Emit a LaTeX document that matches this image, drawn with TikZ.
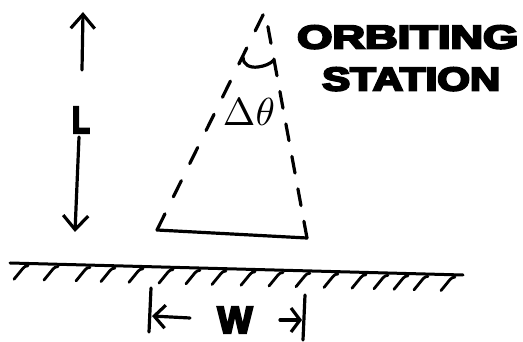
\documentclass[tikz,border=0pt]{standalone}
\usepackage{fontspec}
\setsansfont{Liberation Sans}
\newfontfamily\heavyfont{Liberation Sans}[FakeBold=6]
\usetikzlibrary{arrows.meta}
\tikzset{
  ink/.style={line width=3.2pt, line cap=round, line join=round},
  conedash/.style={ink, dash pattern=#1},
  hatchmark/.style={line width=2.8pt, line cap=round, line join=round},
  lbl/.style={inner sep=0pt, font=\heavyfont\bfseries}
}
\begin{document}
\begin{tikzpicture}[x=1pt,y=-1pt]
\useasboundingbox (0,0) rectangle (523,342);
% L dimension
\coordinate (upTail) at (82,70);
\coordinate (upTip) at (83,12);
\coordinate (dnTail) at (79,137);
\coordinate (dnTip) at (75,232);
\draw[ink, -{Straight Barb[length=14pt,width=24pt]}] (upTail) -- (upTip);
\draw[ink, -{Straight Barb[length=14pt,width=25pt]}] (dnTail) -- (dnTip);
\node[lbl] (Llbl) at (81,120) {\resizebox{18pt}{26pt}{L}};
% cone
\coordinate (apex) at (265,11);
\coordinate (bl) at (157,230);
\coordinate (br) at (307,238);
\draw[conedash={on 18pt off 19pt}] (bl) -- (apex);
\draw[conedash={on 17pt off 16pt}] (br) -- (apex);
\draw[ink] (bl) -- (br);
\draw[ink] (243,57) .. controls (243,65) and (250,68) .. (258,67) .. controls (265,66) and (270,64) .. (274,60);
\node[inner sep=0pt] (dtheta) at (249,112) {\resizebox{52pt}{!}{$\Delta\theta$}};
% title
\node[lbl, anchor=south west] (orb) at (297,49) {\resizebox{221pt}{23pt}{ORBITING}};
\node[lbl, anchor=south west] (sta) at (322,91) {\resizebox{178pt}{23pt}{STATION}};
% ground
\coordinate (g1) at (10,263);
\coordinate (g2) at (463,275);
\draw[line width=3pt, line cap=round] (g1) -- (g2);
\foreach \hx in {20,50,82,107,135,165,192,218,247,275,302,330,358,380,400,420,447} {
  \pgfmathsetmacro{\hy}{263+(\hx-10)*12/453}
  \draw[hatchmark] (\hx-6,\hy+16) -- (\hx+3,\hy+5) to[out=50,in=180] (\hx+8,\hy+2.5);
}
% W dimension
\coordinate (wlTop) at (151,288);
\coordinate (wlBot) at (149,332);
\coordinate (wrTop) at (305,295);
\coordinate (wrBot) at (303,340);
\coordinate (wlTail) at (190,318);
\coordinate (wlTip) at (152,316);
\coordinate (wrTail) at (280,320);
\coordinate (wrTip) at (302,320);
\draw[ink] (wlTop) -- (wlBot);
\draw[ink] (wrTop) -- (wrBot);
\draw[ink, -{Straight Barb[length=11pt,width=23pt]}] (wlTail) -- (wlTip);
\draw[ink, -{Straight Barb[length=9pt,width=24pt]}] (wrTail) -- (wrTip);
\node[lbl] (Wlbl) at (235,320) {\resizebox{35pt}{26pt}{W}};
\end{tikzpicture}
\end{document}
